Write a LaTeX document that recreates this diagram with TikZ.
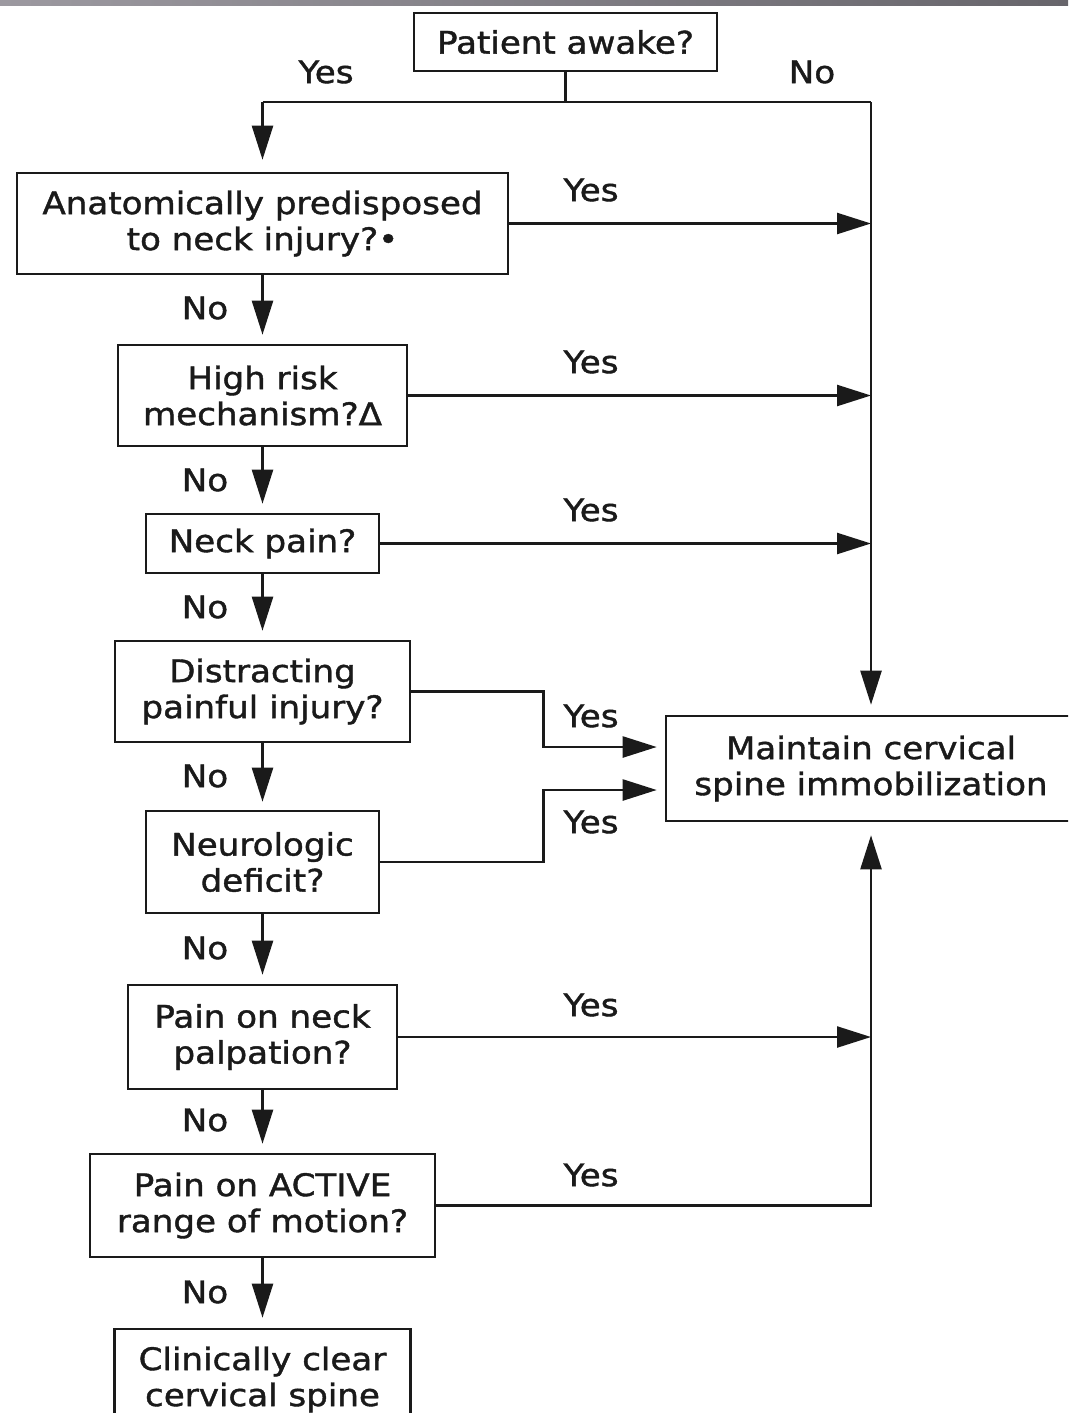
\documentclass[tikz,border=0pt]{standalone}
\usepackage{fontspec}
\setmainfont{DejaVu Sans}[FakeStretch=1.1,FakeBold=1.3]
\usetikzlibrary{arrows.meta,calc}
\definecolor{ink}{HTML}{1A1A1A}
\definecolor{barL}{HTML}{9C99A0}
\definecolor{barR}{HTML}{67656B}
\tikzset{
  box/.style={draw=ink, line width=2.6pt, inner sep=0pt, align=center, text=ink,
    font=\fontsize{31}{36}\selectfont},
  lbl/.style={text=ink, inner sep=0pt, font=\fontsize{31}{36}\selectfont},
  conn/.style={draw=ink, line width=2.4pt},
  arr/.style={conn, -{Triangle[length=34pt,width=21pt]}},
}
\begin{document}
\begin{tikzpicture}[x=1pt,y=-1pt]
\useasboundingbox (0,0) rectangle (1068,1413);
\clip (0,0) rectangle (1068,1413);
\fill[white] (0,0) rectangle (1068,1413);
\shade[left color=barL, right color=barR] (0,0) rectangle (1068,5.5);

% nodes
\node[box, minimum width=303pt, minimum height=58pt] (awake) at (565.5,42) {Patient awake?};
\node[box, minimum width=491pt, minimum height=101pt] (anat) at (262.5,223.5) {Anatomically predisposed\\to neck injury?•};
\node[box, minimum width=289pt, minimum height=101pt] (high) at (262.5,395.5) {High risk\\mechanism?Δ};
\node[box, minimum width=233pt, minimum height=59pt] (neck) at (262.5,543.5) {Neck pain?};
\node[box, minimum width=295pt, minimum height=101pt] (dist) at (262.5,691.5) {Distracting\\painful injury?};
\node[box, minimum width=233pt, minimum height=102pt] (neuro) at (262.5,862) {Neurologic\\deficit?};
\node[box, minimum width=269pt, minimum height=104pt] (palp) at (262.5,1037) {Pain on neck\\palpation?};
\node[box, minimum width=345pt, minimum height=103pt] (active) at (262.5,1205.5) {Pain on ACTIVE\\range of motion?};
\node[box, minimum width=296pt, minimum height=101pt] (clear) at (262.5,1379.5) {Clinically clear\\cervical spine};
\node[box, minimum width=410pt, minimum height=105pt] (maint) at (871,768.5) {Maintain cervical\\spine immobilization};

% junction
\coordinate (jl) at (262.5,102);
\coordinate (jr) at (871,102);

% connectors
\draw[conn] (awake.south) -- (awake.south |- jl);
\draw[conn] (jl) -- (jr);
\draw[arr, shorten >=12pt] (jl) -- (anat.north);
\draw[arr, shorten >=10pt] (jr) -- (maint.north);

\draw[arr] (anat.east) -- (anat.east -| jr);
\draw[arr] (high.east) -- (high.east -| jr);
\draw[arr] (neck.east) -- (neck.east -| jr);
\draw[arr] (palp.east) -- (palp.east -| jr);
\draw[arr, shorten >=8pt] (dist.east) -- ++(132,0) |- ([yshift=21.5pt]maint.west);
\draw[arr, shorten >=8pt] (neuro.east) -- ++(163,0) |- ([yshift=-21.5pt]maint.west);
\draw[arr, shorten >=13pt] (active.east) -| (maint.south);

\draw[arr, shorten >=9pt] (anat.south) -- (high.north);
\draw[arr, shorten >=9pt] (high.south) -- (neck.north);
\draw[arr, shorten >=9pt] (neck.south) -- (dist.north);
\draw[arr, shorten >=8pt] (dist.south) -- (neuro.north);
\draw[arr, shorten >=9pt] (neuro.south) -- (palp.north);
\draw[arr, shorten >=9pt] (palp.south) -- (active.north);
\draw[arr, shorten >=10pt] (active.south) -- (clear.north);

% labels
\node[lbl] (yes0) at (326,72) {Yes};
\node[lbl] (no0) at (812,72) {No};
\node[lbl] (yes1) at (591,190) {Yes};
\node[lbl] (yes2) at (591,362) {Yes};
\node[lbl] (yes3) at (591,510) {Yes};
\node[lbl] (yes4) at (591,716) {Yes};
\node[lbl] (yes5) at (591,822) {Yes};
\node[lbl] (yes6) at (591,1005) {Yes};
\node[lbl] (yes7) at (591,1175) {Yes};
\node[lbl] (no1) at (205,308) {No};
\node[lbl] (no2) at (205,480) {No};
\node[lbl] (no3) at (205,607) {No};
\node[lbl] (no4) at (205,776) {No};
\node[lbl] (no5) at (205,948) {No};
\node[lbl] (no6) at (205,1120) {No};
\node[lbl] (no7) at (205,1292) {No};
\end{tikzpicture}
\end{document}
